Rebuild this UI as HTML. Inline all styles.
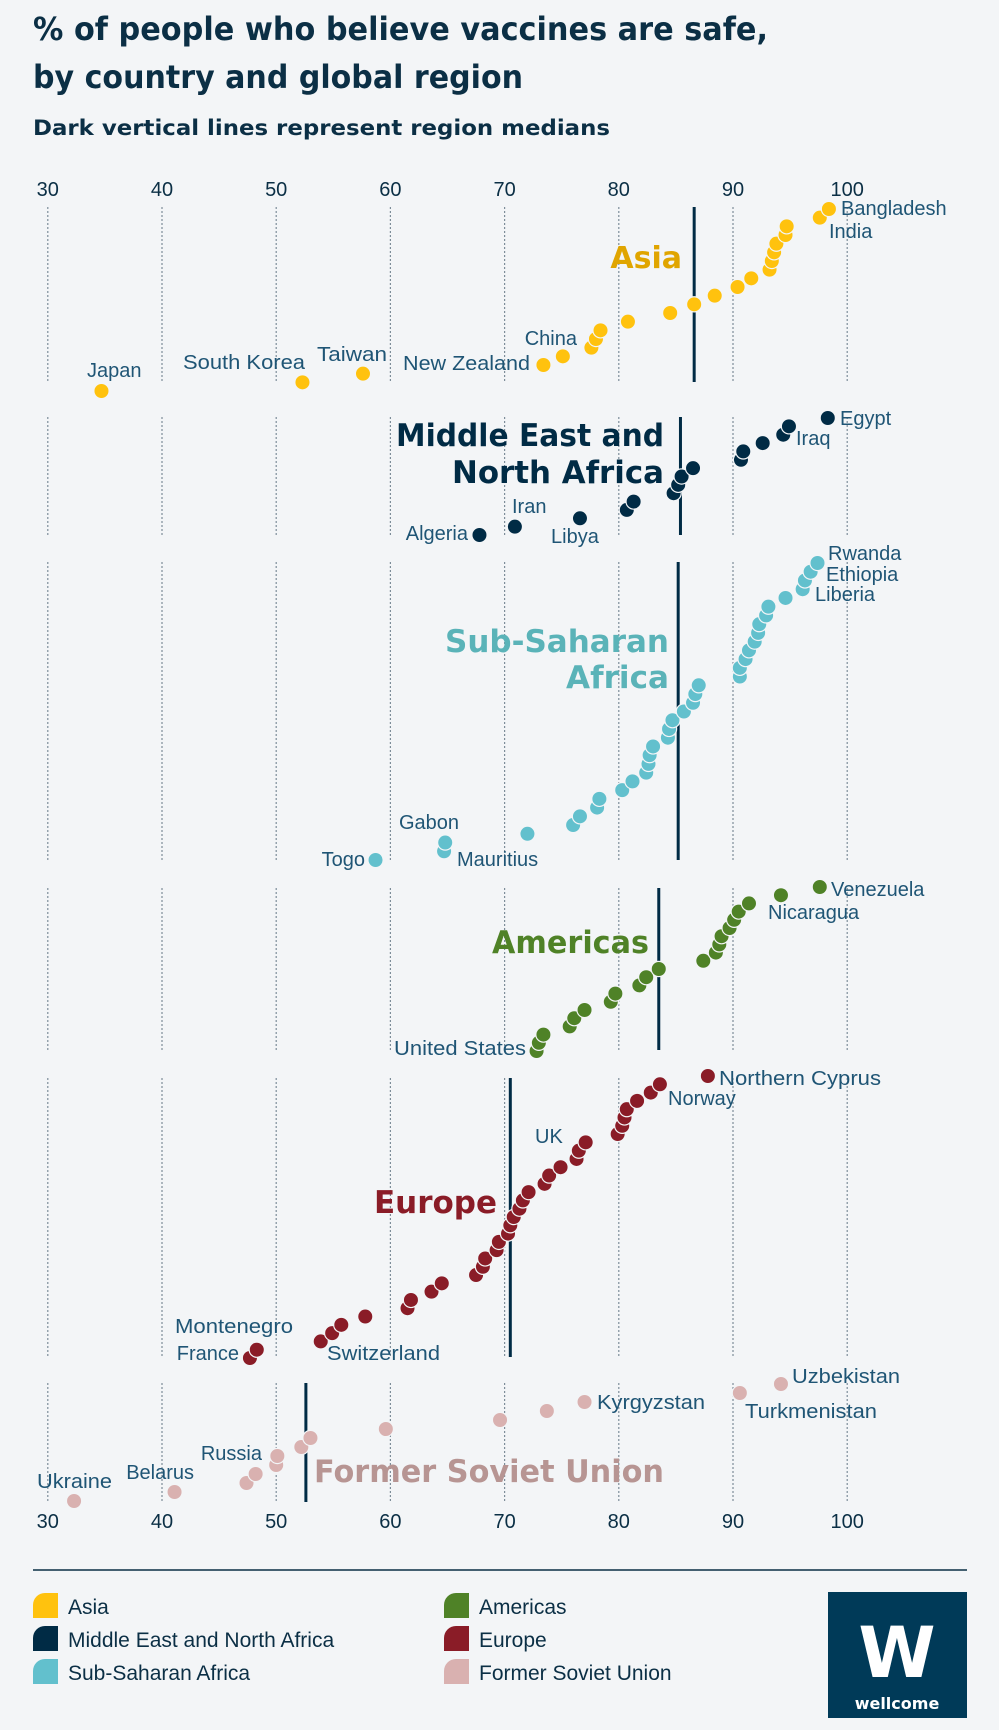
<!DOCTYPE html>
<html><head><meta charset="utf-8"><style>
html,body{margin:0;padding:0;background:#f3f5f7;}
svg{display:block;font-family:"Liberation Sans",Arial,sans-serif;}
.t{font-family:"DejaVu Sans","Liberation Sans",sans-serif;font-weight:bold;fill:#0b2f45;}
.c{font-size:20px;fill:#1f5575;}
.tick{font-size:20px;fill:#0b2f45;}
.rl{font-family:"DejaVu Sans","Liberation Sans",sans-serif;font-weight:bold;}
.lg{font-size:21px;fill:#0b2f45;}
</style></head><body>
<svg id="chart" width="999" height="1730" viewBox="0 0 999 1730">
<rect x="0" y="0" width="999" height="1730" fill="#f3f5f7"/>
<text class="t" x="33" y="40" font-size="32" textLength="735" lengthAdjust="spacingAndGlyphs">% of people who believe vaccines are safe,</text>
<text class="t" x="33" y="88" font-size="32" textLength="490" lengthAdjust="spacingAndGlyphs">by country and global region</text>
<text class="t" x="33" y="135" font-size="21" textLength="577" lengthAdjust="spacingAndGlyphs">Dark vertical lines represent region medians</text>
<g id="grid"></g><g id="medians"></g><g id="dots"></g><g id="ticks"></g>
<g id="labels">
<text class="c" x="841" y="215">Bangladesh</text>
<text class="c" x="829" y="238">India</text>
<text class="c" x="577" y="345" text-anchor="end">China</text>
<text class="c" x="530" y="370" text-anchor="end" textLength="127" lengthAdjust="spacingAndGlyphs">New Zealand</text>
<text class="c" x="317" y="361" textLength="70" lengthAdjust="spacingAndGlyphs">Taiwan</text>
<text class="c" x="183" y="369" textLength="122" lengthAdjust="spacingAndGlyphs">South Korea</text>
<text class="c" x="87" y="377">Japan</text>
<text class="c" x="840" y="425">Egypt</text>
<text class="c" x="796" y="445">Iraq</text>
<text class="c" x="512" y="513">Iran</text>
<text class="c" x="468" y="540" text-anchor="end">Algeria</text>
<text class="c" x="551" y="543">Libya</text>
<text class="c" x="828" y="560">Rwanda</text>
<text class="c" x="826" y="581">Ethiopia</text>
<text class="c" x="815" y="601">Liberia</text>
<text class="c" x="399" y="829">Gabon</text>
<text class="c" x="365" y="866" text-anchor="end">Togo</text>
<text class="c" x="457" y="866">Mauritius</text>
<text class="c" x="831" y="896">Venezuela</text>
<text class="c" x="768" y="919">Nicaragua</text>
<text class="c" x="526" y="1055" text-anchor="end" textLength="132" lengthAdjust="spacingAndGlyphs">United States</text>
<text class="c" x="719" y="1085" textLength="162" lengthAdjust="spacingAndGlyphs">Northern Cyprus</text>
<text class="c" x="668" y="1105">Norway</text>
<text class="c" x="535" y="1143">UK</text>
<text class="c" x="293" y="1333" text-anchor="end" textLength="118" lengthAdjust="spacingAndGlyphs">Montenegro</text>
<text class="c" x="239" y="1360" text-anchor="end">France</text>
<text class="c" x="327" y="1360" textLength="113" lengthAdjust="spacingAndGlyphs">Switzerland</text>
<text class="c" x="792" y="1383" textLength="108" lengthAdjust="spacingAndGlyphs">Uzbekistan</text>
<text class="c" x="597" y="1409" textLength="108" lengthAdjust="spacingAndGlyphs">Kyrgyzstan</text>
<text class="c" x="745" y="1418" textLength="132" lengthAdjust="spacingAndGlyphs">Turkmenistan</text>
<text class="c" x="262" y="1460" text-anchor="end">Russia</text>
<text class="c" x="194" y="1479" text-anchor="end">Belarus</text>
<text class="c" x="37" y="1488" textLength="75" lengthAdjust="spacingAndGlyphs">Ukraine</text>
</g>
<g id="region-labels">
<text class="rl" x="682" y="268" text-anchor="end" font-size="30" fill="#e0a500">Asia</text>
<text class="rl" x="664" y="446" text-anchor="end" font-size="31" fill="#002b45" textLength="268" lengthAdjust="spacingAndGlyphs">Middle East and</text>
<text class="rl" x="664" y="483" text-anchor="end" font-size="31" fill="#002b45" textLength="212" lengthAdjust="spacingAndGlyphs">North Africa</text>
<text class="rl" x="669" y="652" text-anchor="end" font-size="31" fill="#5ab3b8" textLength="224" lengthAdjust="spacingAndGlyphs">Sub-Saharan</text>
<text class="rl" x="669" y="688" text-anchor="end" font-size="31" fill="#5ab3b8" textLength="103" lengthAdjust="spacingAndGlyphs">Africa</text>
<text class="rl" x="649" y="953" text-anchor="end" font-size="31" fill="#4f8227" textLength="157" lengthAdjust="spacingAndGlyphs">Americas</text>
<text class="rl" x="497" y="1213" text-anchor="end" font-size="31" fill="#8a1c27" textLength="123" lengthAdjust="spacingAndGlyphs">Europe</text>
<text class="rl" x="314" y="1482" font-size="31" fill="#b79593" textLength="350" lengthAdjust="spacingAndGlyphs">Former Soviet Union</text>
</g>
<line x1="33" y1="1570" x2="967" y2="1570" stroke="#0b2f45" stroke-width="1.5"/>
<g id="legend"></g>
<g>
<rect x="828" y="1592" width="139" height="126" fill="#003a58"/>
<text x="897" y="1677" text-anchor="middle" font-family="DejaVu Sans,Liberation Sans,sans-serif" font-weight="bold" font-size="70" fill="#ffffff">W</text>
<text x="897" y="1709" text-anchor="middle" font-family="DejaVu Sans,Liberation Sans,sans-serif" font-weight="bold" font-size="16" fill="#ffffff">wellcome</text>
</g>
</svg>
<script>
const tickValues = [30,40,50,60,70,80,90,100];
const asiaValues = [34.7,52.3,57.6,73.4,75.1,77.6,78.0,78.4,80.8,84.5,86.6,88.4,90.4,91.6,93.2,93.4,93.6,93.8,94.6,94.7,97.6,98.4];
const menaValues = [67.8,70.9,76.6,80.7,81.3,84.8,85.2,85.5,86.5,90.7,90.9,92.6,94.4,94.9,98.3];
const ssaValues = [58.7,64.7,64.8,72.0,76.0,76.6,78.1,78.3,80.3,81.2,82.4,82.6,82.7,83.0,84.3,84.4,84.7,85.7,86.5,86.7,87.0,90.6,90.6,91.1,91.4,91.9,92.2,92.3,92.9,93.1,94.6,96.1,96.3,96.8,97.4];
const americasValues = [72.8,73.0,73.4,75.7,76.1,77.0,79.3,79.7,81.8,82.4,83.5,87.4,88.5,88.8,89.0,89.7,90.1,90.5,91.4,94.2,97.6];
const europeValues = [47.7,48.3,53.9,54.9,55.7,57.8,61.5,61.8,63.6,64.5,67.5,68.1,68.3,69.3,69.5,70.3,70.5,70.8,71.3,71.6,72.1,73.5,73.9,74.9,76.3,76.5,77.1,79.9,80.3,80.5,80.7,81.6,82.8,83.6,87.8];
const fsuValues = [32.3,41.1,47.4,48.2,50.0,50.1,52.2,53.0,59.6,69.6,73.7,77.0,90.6,94.2];
const regionNames = ["Asia","Middle East and North Africa","Sub-Saharan Africa","Americas","Europe","Former Soviet Union"];
const regionMedians = [86.6,85.4,85.2,83.5,70.5,52.6];

const NS = "http://www.w3.org/2000/svg";
function xScale(v){ return 47.8 + (v - 30) * 11.42; }
function mk(tag, attrs, parent){ const e = document.createElementNS(NS, tag); for (const k in attrs) e.setAttribute(k, attrs[k]); parent.appendChild(e); return e; }

const seriesList = [asiaValues, menaValues, ssaValues, americasValues, europeValues, fsuValues];
const colors = ["#ffc20e","#002b45","#62c0cd","#4f8227","#8a1c27","#d9b1b0"];
const slugs = ["asia","mena","ssa","americas","europe","fsu"];
const layout = [
 {dt:209,db:391,gt:207,gb:382},
 {dt:418,db:535,gt:417,gb:535},
 {dt:563,db:860,gt:562,gb:860},
 {dt:887,db:1051,gt:888,gb:1050},
 {dt:1076,db:1358,gt:1078,gb:1357},
 {dt:1384,db:1501,gt:1383,gb:1502}
];
const grid = document.getElementById('grid');
const med = document.getElementById('medians');
const dots = document.getElementById('dots');
const ticks = document.getElementById('ticks');

layout.forEach((L, r) => {
  tickValues.forEach(t => {
    const gl = mk('line', {x1:xScale(t), x2:xScale(t), y1:L.gt, y2:L.gb, stroke:'#7d8d99', 'stroke-width':1.2, 'stroke-dasharray':'2,2'}, grid);
    
    
  });
  const ml = mk('line', {x1:xScale(regionMedians[r]), x2:xScale(regionMedians[r]), y1:L.gt, y2:L.gb, stroke:'#002b45', 'stroke-width':3}, med);
  
  
  const vals = seriesList[r];
  const n = vals.length;
  vals.forEach((v, i) => {
    const y = L.db - (n > 1 ? i * (L.db - L.dt) / (n - 1) : 0);
    const c = mk('circle', {cx:xScale(v), cy:y, r:7.6, fill:colors[r], stroke:'#f3f5f7', 'stroke-width':1.2}, dots);
    
    
  });
});

tickValues.forEach(t => {
  const a = mk('text', {x:xScale(t), y:196, 'text-anchor':'middle', class:'tick'}, ticks);
  a.textContent = t;
  
  
  const b = mk('text', {x:xScale(t), y:1528, 'text-anchor':'middle', class:'tick'}, ticks);
  b.textContent = t;
  
  
});

const legend = document.getElementById('legend');
const legendOrder = [0,1,2,3,4,5];
legendOrder.forEach((r, k) => {
  const col = k < 3 ? 0 : 1;
  const row = k % 3;
  const x = col === 0 ? 33 : 444;
  const y = 1593 + row * 33;
  const g = mk('g', {}, legend);
  
  
  const p = mk('path', {d:`M${x} ${y+25} L${x} ${y+12} A12 12 0 0 1 ${x+12} ${y} L${x+25} ${y} L${x+25} ${y+25} Z`, fill:colors[r]}, g);
  
  
  const t = mk('text', {x:x + 35, y:y + 21, class:'lg'}, g);
  t.textContent = regionNames[r];
  
  
});
</script>
</body></html>
